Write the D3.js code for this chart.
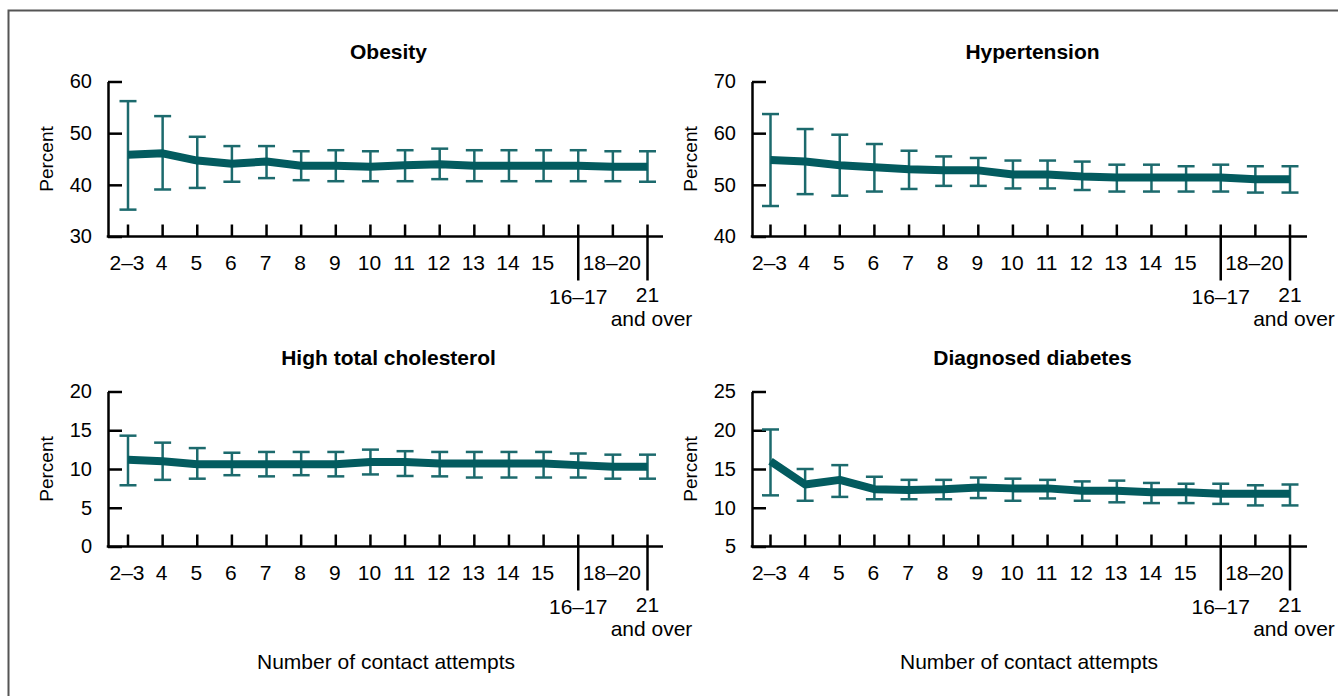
<!DOCTYPE html>
<html>
<head>
<meta charset="utf-8">
<script src="https://cdn.jsdelivr.net/npm/d3@7"></script>
<style>
  html, body { margin: 0; padding: 0; background: #fff; }
  svg { display: block; font-family: "Liberation Sans", Arial, sans-serif; }
</style>
</head>
<body>
<svg id="chart" width="1338" height="696"></svg>
<script>
// ---- Data ----
const categories = ["2–3","4","5","6","7","8","9","10","11","12","13","14","15","16–17","18–20","21 and over"];

const obesityValues = [45.8,46.1,44.7,44.1,44.5,43.7,43.7,43.5,43.8,44.0,43.7,43.7,43.7,43.7,43.5,43.5];
const obesityLower  = [35.2,39.1,39.4,40.6,41.3,40.9,40.7,40.7,40.7,41.1,40.7,40.7,40.7,40.7,40.7,40.6];
const obesityUpper  = [56.2,53.3,49.3,47.5,47.5,46.5,46.7,46.5,46.7,47.0,46.7,46.7,46.7,46.7,46.5,46.5];

const hypertensionValues = [54.8,54.5,53.8,53.4,53.0,52.8,52.8,52.0,52.0,51.6,51.4,51.4,51.4,51.4,51.1,51.1];
const hypertensionLower  = [45.9,48.2,47.9,48.7,49.2,49.8,49.8,49.3,49.3,49.0,48.7,48.7,48.7,48.7,48.5,48.5];
const hypertensionUpper  = [63.7,60.8,59.7,57.9,56.6,55.5,55.2,54.7,54.7,54.5,53.9,53.9,53.6,53.9,53.6,53.6];

const cholesterolValues = [11.2,11.0,10.6,10.6,10.6,10.6,10.6,10.9,10.9,10.7,10.7,10.7,10.7,10.5,10.3,10.3];
const cholesterolLower  = [7.9,8.6,8.75,9.2,9.05,9.2,9.05,9.3,9.1,9.05,8.9,8.9,8.9,8.9,8.75,8.75];
const cholesterolUpper  = [14.3,13.4,12.7,12.1,12.2,12.2,12.2,12.5,12.3,12.2,12.2,12.2,12.2,12.0,11.85,11.85];

const diabetesValues = [16.0,13.0,13.6,12.4,12.3,12.4,12.6,12.5,12.5,12.2,12.2,12.0,12.0,11.8,11.8,11.8];
const diabetesLower  = [11.6,10.9,11.4,11.1,11.1,11.1,11.25,10.9,11.2,10.9,10.7,10.6,10.6,10.5,10.3,10.3];
const diabetesUpper  = [20.1,15.0,15.5,14.0,13.6,13.6,13.9,13.75,13.6,13.4,13.5,13.2,13.1,13.1,12.9,13.0];

const obesityTicks = [30,40,50,60];
const hypertensionTicks = [40,50,60,70];
const cholesterolTicks = [0,5,10,15,20];
const diabetesTicks = [5,10,15,20,25];

const panelTitles = ["Obesity","Hypertension","High total cholesterol","Diagnosed diabetes"];
const yLabel = "Percent";
const xLabel = "Number of contact attempts";

// ---- Layout ----
const svg = d3.select("#chart");
const LINE_COLOR = "#035b5f";
const BAR_COLOR = "#1c6a6d";
const XFONT = 21;
const YFONT = 20;

svg.append("rect")
  .attr("x", 8.5).attr("y", 10.5)
  .attr("width", 1345).attr("height", 700)
  .attr("fill", "none").attr("stroke", "#555").attr("stroke-width", 2);

const panels = [
  {title: panelTitles[0], vals: obesityValues, lo: obesityLower, hi: obesityUpper, ticks: obesityTicks,
   axisX: 108, xEnd: 663, xr: [128, 647.5], top: 81.5, bottom: 236.5, titleY: 59, xLabel: false},
  {title: panelTitles[1], vals: hypertensionValues, lo: hypertensionLower, hi: hypertensionUpper, ticks: hypertensionTicks,
   axisX: 752, xEnd: 1307, xr: [770.5, 1290], top: 81.5, bottom: 236.5, titleY: 59, xLabel: false},
  {title: panelTitles[2], vals: cholesterolValues, lo: cholesterolLower, hi: cholesterolUpper, ticks: cholesterolTicks,
   axisX: 108, xEnd: 663, xr: [128, 647.5], top: 391.5, bottom: 546.5, titleY: 365, xLabel: true, xLabelX: 386},
  {title: panelTitles[3], vals: diabetesValues, lo: diabetesLower, hi: diabetesUpper, ticks: diabetesTicks,
   axisX: 752, xEnd: 1307, xr: [770.5, 1290], top: 391.5, bottom: 546.5, titleY: 365, xLabel: true, xLabelX: 1029}
];

panels.forEach(p => {
  const g = svg.append("g");
  const x = d3.scalePoint().domain(categories).range(p.xr);
  const y = d3.scaleLinear().domain(d3.extent(p.ticks)).range([p.bottom, p.top]);

  // title
  g.append("text").attr("x", (p.axisX + p.xEnd) / 2 + 3).attr("y", p.titleY)
    .attr("text-anchor", "middle").attr("font-weight", "bold").attr("font-size", 21)
    .attr("fill", "#000").text(p.title);

  // y axis
  const yAxis = d3.axisLeft(y).tickValues(p.ticks).tickSize(-14).tickPadding(16).tickSizeOuter(0);
  const ya = g.append("g").attr("transform", `translate(${p.axisX},0)`).call(yAxis);
  ya.select(".domain").attr("stroke", "#000").attr("stroke-width", 2.5);
  ya.selectAll(".tick line").attr("stroke", "#000").attr("stroke-width", 2.5);
  ya.selectAll(".tick text").attr("font-size", YFONT).attr("fill", "#000")
    .attr("font-family", "'Liberation Sans', Arial, sans-serif");

  g.append("text")
    .attr("transform", `translate(${p.axisX - 55},${(p.top + p.bottom) / 2}) rotate(-90)`)
    .attr("text-anchor", "middle").attr("font-size", 19).attr("fill", "#000").text(yLabel);

  // x axis line
  g.append("line").attr("x1", p.axisX - 1.25).attr("x2", p.xEnd)
    .attr("y1", p.bottom).attr("y2", p.bottom)
    .attr("stroke", "#000").attr("stroke-width", 2.5);

  // x ticks
  const longTicks = ["16–17", "21 and over"];
  categories.forEach(c => {
    const cx = x(c);
    const isLong = longTicks.includes(c);
    g.append("line").attr("x1", cx).attr("x2", cx)
      .attr("y1", p.bottom - 12).attr("y2", isLong ? p.bottom + 44 : p.bottom)
      .attr("stroke", "#000").attr("stroke-width", 2.5);
    if (!isLong) {
      g.append("text").attr("x", cx - 1).attr("y", p.bottom + 33)
        .attr("text-anchor", "middle").attr("font-size", XFONT).attr("fill", "#000").text(c);
    } else if (c === "16–17") {
      g.append("text").attr("x", cx).attr("y", p.bottom + 67)
        .attr("text-anchor", "middle").attr("font-size", XFONT).attr("fill", "#000").text(c);
    } else {
      const parts = c.split(" and ");
      g.append("text").attr("x", cx).attr("y", p.bottom + 65)
        .attr("text-anchor", "middle").attr("font-size", XFONT).attr("fill", "#000").text(parts[0]);
      g.append("text").attr("x", cx + 4).attr("y", p.bottom + 89)
        .attr("text-anchor", "middle").attr("font-size", XFONT).attr("fill", "#000").text("and " + parts[1]);
    }
  });

  // error bars
  const cap = 8.5;
  const eb = g.append("g").attr("stroke", BAR_COLOR).attr("stroke-width", 2.5).attr("fill", "none");
  categories.forEach((c, i) => {
    const cx = x(c);
    eb.append("line").attr("x1", cx).attr("x2", cx).attr("y1", y(p.lo[i])).attr("y2", y(p.hi[i]));
    eb.append("line").attr("x1", cx - cap).attr("x2", cx + cap).attr("y1", y(p.lo[i])).attr("y2", y(p.lo[i]));
    eb.append("line").attr("x1", cx - cap).attr("x2", cx + cap).attr("y1", y(p.hi[i])).attr("y2", y(p.hi[i]));
  });

  // line
  const line = d3.line().x((d, i) => x(categories[i])).y(d => y(d));
  g.append("path").datum(p.vals).attr("d", line)
    .attr("fill", "none").attr("stroke", LINE_COLOR).attr("stroke-width", 8)
    .attr("stroke-linejoin", "round");

  if (p.xLabel) {
    g.append("text").attr("x", p.xLabelX).attr("y", 669)
      .attr("text-anchor", "middle").attr("font-size", XFONT).attr("fill", "#000").text(xLabel);
  }
});
</script>
</body>
</html>
